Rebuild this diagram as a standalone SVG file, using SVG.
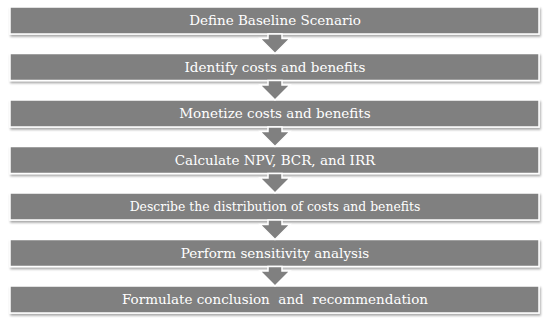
<svg xmlns="http://www.w3.org/2000/svg" width="550" height="325" viewBox="0 0 550 325">
<defs>
<filter id="sh" x="-5%" y="-30%" width="110%" height="180%">
<feDropShadow dx="1" dy="2" stdDeviation="1.2" flood-color="#000" flood-opacity="0.35"/>
</filter>
<style>
.box{fill:#808080;stroke:#fff;stroke-width:1.5;filter:url(#sh)}
.arr{fill:#808080;stroke:#fff;stroke-width:1.5;stroke-linejoin:miter}
.t{font-family:"DejaVu Serif","Liberation Serif",serif;font-size:13.5px;fill:#fff;text-anchor:middle;white-space:pre}
.s{font-size:12.4px}
</style>
</defs>
<rect width="550" height="325" fill="#fff"/>
<g id="n1"><rect class="box" x="10" y="7" width="529" height="27"/><text class="t" x="275" y="25">Define Baseline Scenario</text></g>
<g id="n2"><rect class="box" x="10" y="53.5" width="529" height="27"/><text class="t" x="275" y="71.5">Identify costs and benefits</text></g>
<g id="n3"><rect class="box" x="10" y="100" width="529" height="27"/><text class="t" x="275" y="118">Monetize costs and benefits</text></g>
<g id="n4"><rect class="box" x="10" y="146.5" width="529" height="27"/><text class="t" x="275" y="164.5">Calculate NPV, BCR, and IRR</text></g>
<g id="n5"><rect class="box" x="10" y="193" width="529" height="27"/><text class="t s" x="275" y="210.5">Describe the distribution of costs and benefits</text></g>
<g id="n6"><rect class="box" x="10" y="239.5" width="529" height="27"/><text class="t" x="275" y="257.5">Perform sensitivity analysis</text></g>
<g id="n7"><rect class="box" x="10" y="286" width="529" height="27"/><text class="t" x="275" y="304" xml:space="preserve">Formulate conclusion  and  recommendation</text></g>
<g id="connectors">
<polygon class="arr" points="268,34 282,34 282,38.5 290,38.5 275,53.5 260,38.5 268,38.5"/>
<polygon class="arr" points="268,80.5 282,80.5 282,85 290,85 275,100 260,85 268,85"/>
<polygon class="arr" points="268,127 282,127 282,131.5 290,131.5 275,146.5 260,131.5 268,131.5"/>
<polygon class="arr" points="268,173.5 282,173.5 282,178 290,178 275,193 260,178 268,178"/>
<polygon class="arr" points="268,220 282,220 282,224.5 290,224.5 275,239.5 260,224.5 268,224.5"/>
<polygon class="arr" points="268,266.5 282,266.5 282,271 290,271 275,286 260,271 268,271"/>
</g>
</svg>
